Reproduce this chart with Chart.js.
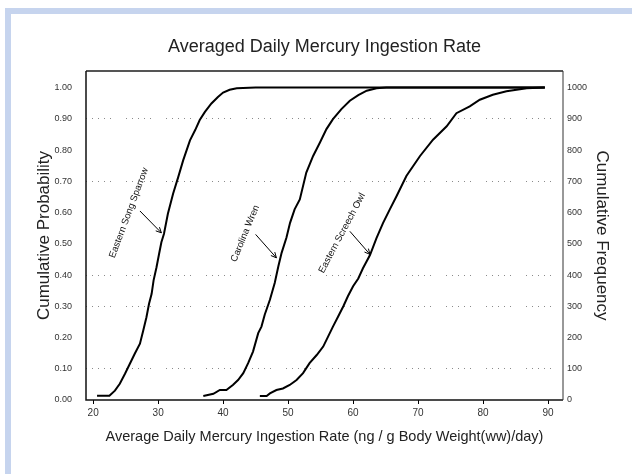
<!DOCTYPE html>
<html>
<head>
<meta charset="utf-8">
<script src="https://cdn.jsdelivr.net/npm/chart.js@4.4.1/dist/chart.umd.min.js"></script>
<style>
  html, body { margin: 0; padding: 0; background: #fff; }
  #wrap { position: relative; width: 632px; height: 474px; overflow: hidden; }
  .band-top { position: absolute; left: 5px; top: 8px; width: 627px; height: 6px; background: #c6d4ee; }
  .band-left { position: absolute; left: 5px; top: 8px; width: 6px; height: 466px; background: #c6d4ee; }
  canvas { position: absolute; left: 0; top: 0; }
</style>
</head>
<body>
<div id="wrap">
  <div class="band-top"></div>
  <div class="band-left"></div>
  <canvas id="graph" width="632" height="474"></canvas>
</div>
<script>
// tick labels
const xTicks = [20, 30, 40, 50, 60, 70, 80, 90];
const probTicks = [0, 0.1, 0.2, 0.3, 0.4, 0.5, 0.6, 0.7, 0.8, 0.9, 1.0];
const freqTicks = [0, 100, 200, 300, 400, 500, 600, 700, 800, 900, 1000];
// dotted grid lines only appear at these levels
const gridLevels = [0.1, 0.3, 0.4, 0.7, 0.9];

// series
const seriesNames = ["Eastern Song Sparrow", "Carolina Wren", "Eastern Screech Owl"];

const sparrowX = [20.6, 22.5, 23.35, 24.1, 24.9, 25.65, 26.4, 27.2, 27.7, 28.2, 28.6, 29.0, 29.3, 29.75, 30.15, 30.5, 30.9, 31.5, 32.3, 33.1, 33.85, 34.9, 35.7, 36.4, 37.2, 38.2, 39.2, 40.0, 41.0, 42.1, 45.0, 50.0, 89.5];
const sparrowY = [0.014, 0.014, 0.03, 0.052, 0.084, 0.116, 0.148, 0.18, 0.222, 0.265, 0.308, 0.34, 0.383, 0.425, 0.468, 0.505, 0.532, 0.596, 0.66, 0.714, 0.767, 0.831, 0.864, 0.896, 0.922, 0.949, 0.97, 0.984, 0.993, 0.998, 1.0, 1.0, 1.0];

const wrenX = [36.95, 38.5, 39.5, 40.5, 41.5, 42.3, 43.1, 43.85, 44.6, 45.4, 45.9, 46.4, 47.2, 47.95, 48.5, 49.0, 49.75, 50.3, 51.0, 51.8, 52.8, 53.85, 54.9, 55.9, 56.9, 58.2, 59.5, 60.8, 62.1, 63.6, 65.1, 89.5];
const wrenY = [0.013, 0.02, 0.032, 0.032, 0.048, 0.064, 0.086, 0.118, 0.155, 0.214, 0.235, 0.273, 0.321, 0.375, 0.428, 0.471, 0.52, 0.567, 0.61, 0.642, 0.728, 0.781, 0.824, 0.867, 0.899, 0.931, 0.958, 0.976, 0.99, 0.998, 1.0, 1.0];

const owlX = [45.65, 46.7, 47.2, 48.2, 49.2, 50.25, 51.3, 52.3, 53.3, 54.4, 55.4, 56.15, 56.9, 57.7, 58.5, 59.2, 60.0, 60.8, 61.5, 62.6, 63.6, 64.6, 65.65, 66.7, 68.2, 70.3, 72.3, 74.4, 75.9, 77.95, 79.5, 81.5, 83.6, 86.7, 89.5];
const owlY = [0.013, 0.013, 0.021, 0.032, 0.037, 0.048, 0.064, 0.086, 0.118, 0.144, 0.171, 0.203, 0.235, 0.267, 0.3, 0.332, 0.364, 0.389, 0.421, 0.464, 0.518, 0.566, 0.61, 0.653, 0.717, 0.781, 0.833, 0.876, 0.918, 0.94, 0.961, 0.977, 0.988, 0.998, 1.0];

drawChart();
function drawChart() {
  const graphElement = document.getElementById("graph");
  if (!graphElement) return;

  Chart.defaults.font.family = "'Liberation Sans', Arial, sans-serif";
  Chart.defaults.color = "#222";

  const toPoints = (xs, ys) => xs.map((x, i) => ({ x: x, y: ys[i] }));

  // rotated curve labels with arrows (anchored in data units)
  const notes = [
    { text: seriesNames[0], x: 25.5, y: 0.599, angle: -69.4, from: [27.2, 0.605], to: [30.5, 0.535] },
    { text: seriesNames[1], x: 43.4, y: 0.533, angle: -67.5, from: [45.0, 0.53], to: [48.2, 0.455] },
    { text: seriesNames[2], x: 58.3, y: 0.534, angle: -62, from: [59.5, 0.54], to: [62.6, 0.466] },
  ];

  const notePlugin = {
    id: "notes",
    afterDatasetsDraw(chart) {
      const { ctx, scales } = chart;
      const sx = scales.x;
      const sy = scales.y;
      ctx.save();
      ctx.fillStyle = "#111";
      ctx.strokeStyle = "#000";
      ctx.lineWidth = 1;
      ctx.font = "9.5px 'Liberation Sans', Arial, sans-serif";
      ctx.textAlign = "center";
      ctx.textBaseline = "middle";
      notes.forEach((n) => {
        ctx.save();
        ctx.translate(sx.getPixelForValue(n.x), sy.getPixelForValue(n.y));
        ctx.rotate((n.angle * Math.PI) / 180);
        ctx.fillText(n.text, 0, 0);
        ctx.restore();

        const x1 = sx.getPixelForValue(n.from[0]);
        const y1 = sy.getPixelForValue(n.from[1]);
        const x2 = sx.getPixelForValue(n.to[0]);
        const y2 = sy.getPixelForValue(n.to[1]);
        const a = Math.atan2(y2 - y1, x2 - x1);
        ctx.beginPath();
        ctx.moveTo(x1, y1);
        ctx.lineTo(x2, y2);
        ctx.moveTo(x2 - 6 * Math.cos(a - 0.45), y2 - 6 * Math.sin(a - 0.45));
        ctx.lineTo(x2, y2);
        ctx.lineTo(x2 - 6 * Math.cos(a + 0.45), y2 - 6 * Math.sin(a + 0.45));
        ctx.stroke();
      });
      ctx.restore();
    },
  };

  // plot frame
  const framePlugin = {
    id: "frame",
    afterDraw(chart) {
      const { ctx, chartArea: a } = chart;
      ctx.save();
      ctx.strokeStyle = "#555";
      ctx.lineWidth = 2;
      ctx.beginPath();
      ctx.moveTo(a.left, a.top);
      ctx.lineTo(a.right, a.top);
      ctx.stroke();
      ctx.strokeStyle = "#111";
      ctx.lineWidth = 1.5;
      ctx.beginPath();
      ctx.moveTo(a.left, a.top);
      ctx.lineTo(a.left, a.bottom);
      ctx.lineTo(a.right, a.bottom);
      ctx.stroke();
      ctx.lineWidth = 1;
      ctx.strokeStyle = "#333";
      ctx.beginPath();
      ctx.moveTo(a.right, a.top);
      ctx.lineTo(a.right, a.bottom);
      ctx.stroke();
      ctx.restore();
    },
  };

  const lineStyle = {
    borderColor: "#000",
    borderWidth: 2,
    pointRadius: 0,
    fill: false,
    tension: 0,
  };

  new Chart(graphElement.getContext("2d"), {
    type: "line",
    data: {
      datasets: [
        { label: seriesNames[0], data: toPoints(sparrowX, sparrowY), ...lineStyle },
        { label: seriesNames[1], data: toPoints(wrenX, wrenY), ...lineStyle },
        { label: seriesNames[2], data: toPoints(owlX, owlY), ...lineStyle },
      ],
    },
    options: {
      responsive: false,
      animation: false,
      devicePixelRatio: 1,
      layout: { padding: 0 },
      scales: {
        x: {
          type: "linear",
          min: 18.9,
          max: 92.3,
          afterBuildTicks(scale) {
            scale.ticks = xTicks.map((v) => ({ value: v }));
          },
          afterFit(scale) {
            scale.height = 74;
          },
          ticks: { font: { size: 10 }, color: "#333", padding: 3 },
          grid: { drawOnChartArea: false, drawTicks: true, tickLength: 4, color: "#000" },
          border: { display: false },
          title: {
            display: true,
            text: "Average Daily Mercury Ingestion Rate (ng / g Body Weight(ww)/day)",
            font: { size: 14.5 },
            color: "#222",
            padding: { top: 0, bottom: 28.6 },
          },
        },
        y: {
          type: "linear",
          position: "left",
          min: 0,
          max: 1.053,
          afterBuildTicks(scale) {
            scale.ticks = probTicks.map((v) => ({ value: v }));
          },
          afterFit(scale) {
            scale.width = 86;
          },
          ticks: {
            font: { size: 9 },
            color: "#333",
            padding: 14,
            callback: (v) => Number(v).toFixed(2),
          },
          grid: {
            drawTicks: false,
            lineWidth: 1,
            color: (c) =>
              c.tick && gridLevels.some((g) => Math.abs(g - c.tick.value) < 1e-6)
                ? "#8a8a8a"
                : "rgba(0,0,0,0)",
          },
          border: { display: false, dash: [1, 5, 1, 5, 1, 5, 1, 5, 1, 15] },
          title: {
            display: true,
            text: "Cumulative Probability",
            font: { size: 17 },
            color: "#222",
            padding: { top: 33.8, bottom: 0 },
          },
        },
        y2: {
          type: "linear",
          position: "right",
          min: 0,
          max: 1053,
          afterBuildTicks(scale) {
            scale.ticks = freqTicks.map((v) => ({ value: v }));
          },
          afterFit(scale) {
            scale.width = 69;
          },
          ticks: { font: { size: 9 }, color: "#333", padding: 4, callback: (v) => String(v) },
          grid: { display: false, drawTicks: false },
          border: { display: false },
          title: {
            display: true,
            text: "Cumulative Frequency",
            font: { size: 17 },
            color: "#222",
            padding: { top: 19.8, bottom: 0 },
          },
        },
      },
      plugins: {
        legend: { display: false },
        tooltip: { enabled: false },
        title: {
          display: true,
          fullSize: false,
          text: "Averaged Daily Mercury Ingestion Rate",
          font: { size: 18, weight: "normal" },
          color: "#222",
          padding: { top: 36.2, bottom: 13.2 },
        },
      },
    },
    plugins: [notePlugin, framePlugin],
  });
}
</script>
</body>
</html>
